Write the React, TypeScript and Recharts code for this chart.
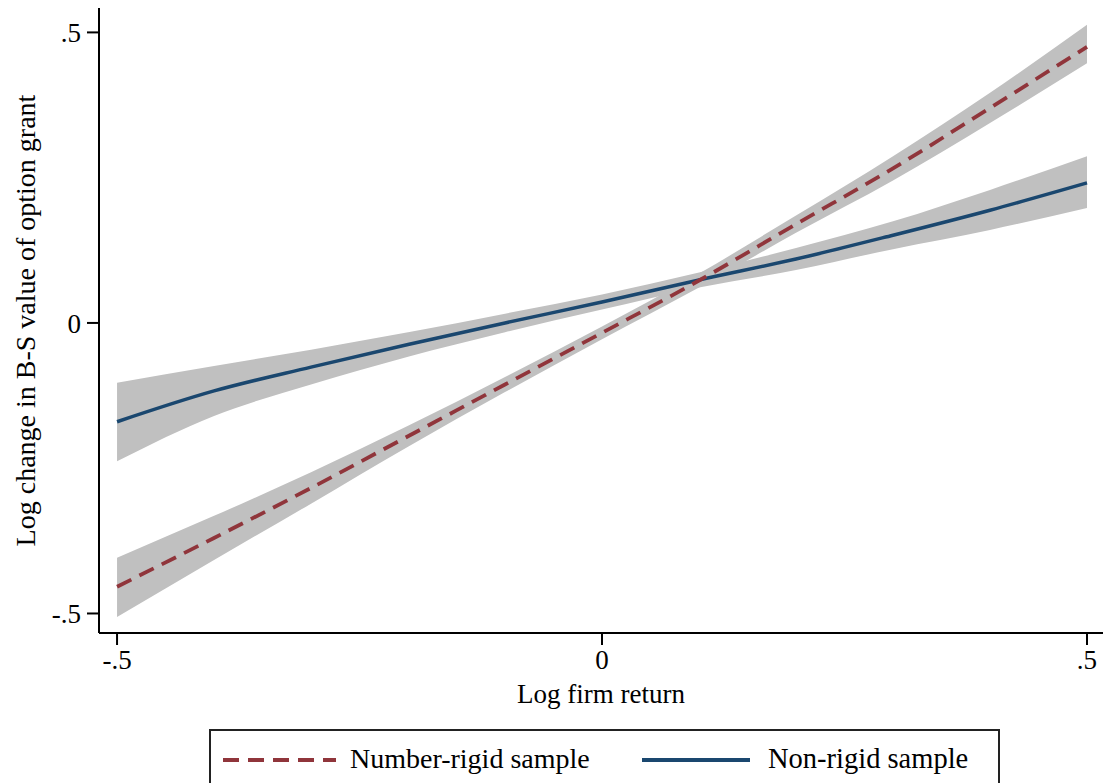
import React from 'react';
import { ComposedChart, Area, Line, XAxis, YAxis, Label } from 'recharts';

// log firm return grid
const logReturn = [-0.5, -0.4, -0.3, -0.2, -0.1, 0, 0.1, 0.2, 0.3, 0.4, 0.5];

// number-rigid sample: fitted value and confidence band
const rigidFit = [-0.454, -0.37, -0.284, -0.195, -0.106, -0.017, 0.073, 0.17, 0.266, 0.37, 0.475];
const rigidLo = [-0.506, -0.408, -0.311, -0.213, -0.119, -0.028, 0.061, 0.155, 0.245, 0.344, 0.447];
const rigidHi = [-0.404, -0.332, -0.257, -0.177, -0.093, -0.006, 0.085, 0.185, 0.287, 0.396, 0.513];

// non-rigid sample
const nonRigidFit = [-0.17, -0.117, -0.076, -0.037, 0.0, 0.036, 0.074, 0.11, 0.151, 0.194, 0.241];
const nonRigidLo = [-0.238, -0.16, -0.106, -0.058, -0.016, 0.023, 0.061, 0.091, 0.127, 0.16, 0.198];
const nonRigidHi = [-0.103, -0.074, -0.046, -0.016, 0.016, 0.049, 0.087, 0.129, 0.175, 0.229, 0.287];

const axisTicks = [-0.5, 0, 0.5];

const RED = '#90353b';
const BLUE = '#1a476f';
const BAND = '#c0c0c0';
const FONT = '"Liberation Serif", "DejaVu Serif", serif';

const rows = logReturn.map((x, i) => ({
  x,
  rigid: rigidFit[i],
  rigidBand: [rigidLo[i], rigidHi[i]],
  nonRigid: nonRigidFit[i],
  nonRigidBand: [nonRigidLo[i], nonRigidHi[i]],
}));

const fmt = (v: number) => {
  if (v === 0) return '0';
  return (v < 0 ? '-' : '') + String(Math.abs(v)).replace(/^0/, '');
};

const tickStyle = { fill: '#000', fontSize: 27, fontFamily: FONT };

export default function App() {
  return (
    <div style={{ position: 'absolute', left: 0, top: 0, width: 1103, height: 783, overflow: 'hidden', background: '#fff', fontFamily: FONT }}>
      <ComposedChart width={1103} height={783} data={rows} margin={{ top: 8, right: 0, left: 0, bottom: 0 }}>
        <XAxis
          dataKey="x"
          type="number"
          domain={[-0.5186, 0.5165]}
          allowDataOverflow
          ticks={axisTicks}
          tickFormatter={fmt}
          height={150}
          tickSize={12}
          tickMargin={5}
          tick={tickStyle}
          axisLine={{ stroke: '#000', strokeWidth: 2 }}
          tickLine={{ stroke: '#000', strokeWidth: 2 }}
        >
          <Label value="Log firm return" position="insideTop" offset={51} style={{ fill: '#000', fontSize: 27, fontFamily: FONT }} />
        </XAxis>
        <YAxis
          type="number"
          domain={[-0.5336, 0.542]}
          allowDataOverflow
          ticks={axisTicks}
          tickFormatter={fmt}
          width={99}
          tickSize={12}
          tickMargin={6}
          tick={tickStyle}
          axisLine={{ stroke: '#000', strokeWidth: 2 }}
          tickLine={{ stroke: '#000', strokeWidth: 2 }}
        >
          <Label
            value="Log change in B-S value of option grant"
            angle={-90}
            position="insideLeft"
            offset={25}
            style={{ fill: '#000', fontSize: 28, fontFamily: FONT, textAnchor: 'middle' }}
          />
        </YAxis>
        <Area type="monotone" dataKey="nonRigidBand" stroke="none" fill={BAND} fillOpacity={1} isAnimationActive={false} />
        <Line type="monotone" dataKey="nonRigid" stroke={BLUE} strokeWidth={3.5} dot={false} activeDot={false} isAnimationActive={false} />
        <Area type="monotone" dataKey="rigidBand" stroke="none" fill={BAND} fillOpacity={1} isAnimationActive={false} />
        <Line type="monotone" dataKey="rigid" stroke={RED} strokeWidth={3.8} strokeDasharray="16 9" dot={false} activeDot={false} isAnimationActive={false} />
      </ComposedChart>
      <div
        style={{
          position: 'absolute',
          left: 209,
          top: 729,
          width: 791,
          height: 80,
          border: '2px solid #222',
          boxSizing: 'border-box',
        }}
      >
        <svg width={130} height={10} style={{ position: 'absolute', left: 12, top: 24 }}>
          <line x1={0} y1={5} x2={113} y2={5} stroke={RED} strokeWidth={3.8} strokeDasharray="16 9" />
        </svg>
        <span style={{ position: 'absolute', left: 139, top: 11, fontSize: 28, lineHeight: '34px', whiteSpace: 'nowrap' }}>Number-rigid sample</span>
        <svg width={110} height={10} style={{ position: 'absolute', left: 431, top: 24 }}>
          <line x1={0} y1={5} x2={108} y2={5} stroke={BLUE} strokeWidth={3.8} />
        </svg>
        <span style={{ position: 'absolute', left: 557, top: 11, fontSize: 28.5, lineHeight: '34px', whiteSpace: 'nowrap' }}>Non-rigid sample</span>
      </div>
    </div>
  );
}
